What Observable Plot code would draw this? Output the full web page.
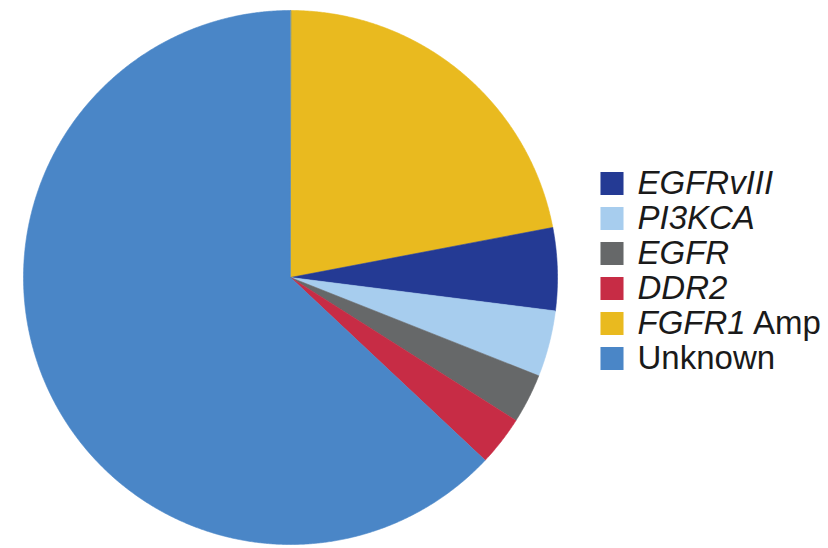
<!DOCTYPE html>
<html>
<head>
<meta charset="utf-8">
<script src="https://cdn.jsdelivr.net/npm/d3@7"></script>
<script src="https://cdn.jsdelivr.net/npm/@observablehq/plot@0.6"></script>
<style>
  html, body { margin: 0; padding: 0; background: #fff; }
  #wrap { position: relative; width: 828px; height: 548px; overflow: hidden; }
  #legend { position: absolute; left: 590px; top: 140px; }
  text { font-family: "Liberation Sans", Arial, sans-serif; }
</style>
</head>
<body>
<div id="wrap"><div id="pie"></div><div id="legend"></div></div>
<script>
// Data (percent of cases), clockwise from 12 o'clock
const sliceNames  = ["FGFR1 Amp", "EGFRvIII", "PI3KCA", "EGFR", "DDR2", "Unknown"];
const sliceValues = [22, 5, 4, 3, 3, 63];
const sliceColors = ["#e9ba1f", "#243a94", "#a7cdee", "#666869", "#c72c45", "#4a86c7"];

// Legend order
const legendNames = ["EGFRvIII", "PI3KCA", "EGFR", "DDR2", "FGFR1 Amp", "Unknown"];
const legendItalic = ["EGFRvIII", "PI3KCA", "EGFR", "DDR2", "FGFR1", ""];
const legendPlain  = ["", "", "", "", " Amp", "Unknown"];

const slices = sliceNames.map((name, i) => ({name, value: sliceValues[i]}));
const arcs = d3.pie().sort(null).value(d => d.value)(slices);

// Polygon outline of each slice built from its pie angles
const pts = [];
for (const a of arcs) {
  const name = a.data.name;
  pts.push({name, x: 0, y: 0});
  const n = Math.max(2, Math.ceil((a.endAngle - a.startAngle) / 0.005));
  for (let k = 0; k <= n; k++) {
    const t = a.startAngle + (a.endAngle - a.startAngle) * k / n;
    pts.push({name, x: Math.sin(t), y: Math.cos(t)});
  }
}

const color = {type: "ordinal", domain: sliceNames, range: sliceColors};

const pie = Plot.plot({
  width: 828,
  height: 548,
  marginLeft: 23,
  marginRight: 271,
  marginTop: 10,
  marginBottom: 4,
  x: {domain: [-1, 1], axis: null},
  y: {domain: [-1, 1], axis: null},
  color,
  style: {background: "#fff"},
  marks: [
    Plot.line(pts, {x: "x", y: "y", z: "name", fill: "name", stroke: "name", strokeWidth: 0.6, curve: "linear-closed"})
  ]
});
document.getElementById("pie").appendChild(pie);

const legendData = legendNames.map((name, i) => ({name, it: legendItalic[i], pl: legendPlain[i]}));

const legend = Plot.plot({
  width: 238,
  height: 260,
  margin: 0,
  y: {type: "point", domain: legendNames, range: [25, 235], axis: null},
  color,
  style: {background: "transparent", overflow: "visible"},
  marks: [
    Plot.dot(legendData, {y: "name", frameAnchor: "left", dx: 21.5, symbol: "square", r: 13, fill: "name", stroke: null}),
    Plot.text(legendData, {y: "name", text: "name", frameAnchor: "left", dx: 47, textAnchor: "start", fontSize: 33, fill: "#1a1a1a"})
  ]
});
document.getElementById("legend").appendChild(legend);

// Mixed italic / regular styling of legend labels
d3.select(legend).selectAll("text").filter(function () { return this.closest("g[aria-label='text']"); })
  .each(function () {
    const el = d3.select(this);
    const item = legendData.find(o => o.name === el.text());
    if (!item) return;
    el.text(null);
    if (item.it) el.append("tspan").attr("font-style", "italic").text(item.it);
    if (item.pl) el.append("tspan").attr("font-style", "normal").text(item.pl);
  });
</script>
</body>
</html>
